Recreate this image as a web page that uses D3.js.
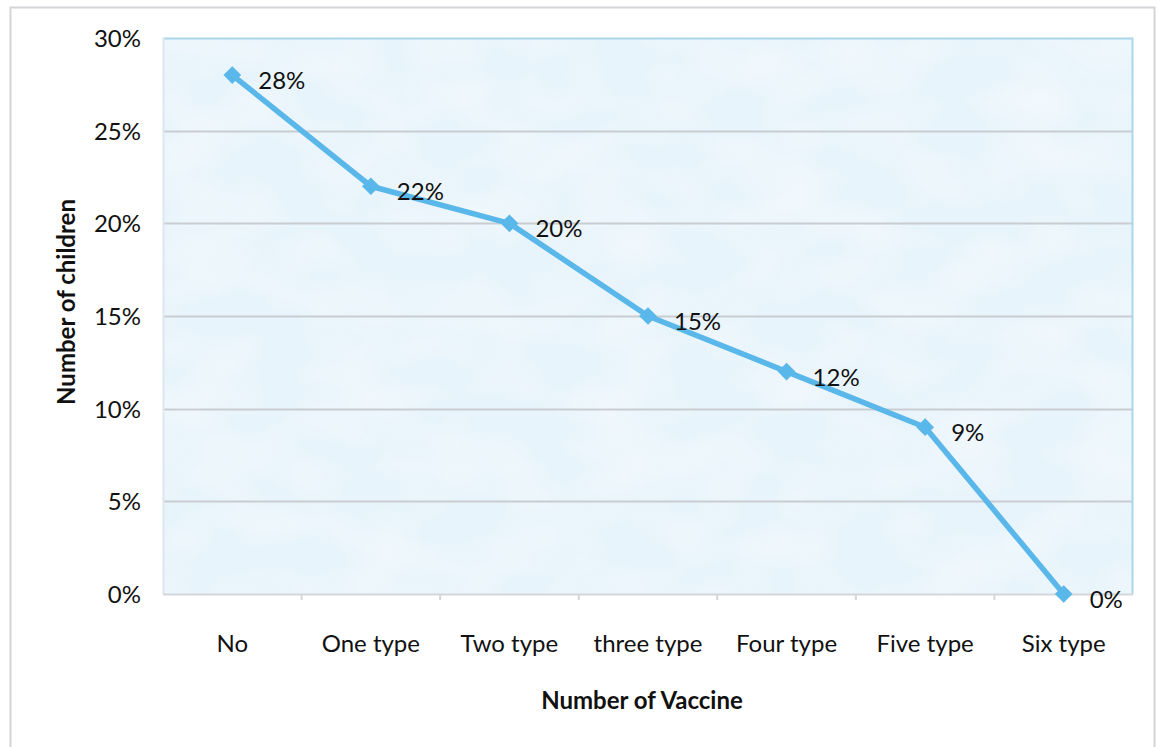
<!DOCTYPE html>
<html>
<head>
<meta charset="utf-8">
<script src="https://cdn.jsdelivr.net/npm/d3@7"></script>
<style>
  html, body { margin: 0; padding: 0; background: #ffffff; }
  svg { display: block; }
  text { font-family: Lato, "Open Sans", sans-serif; fill: #111; }
</style>
</head>
<body>
<svg id="chart" width="1158" height="747"></svg>
<script>
// Share of children by number of vaccines received
const categories = ["No", "One type", "Two type", "three type", "Four type", "Five type", "Six type"];
const shares = [28, 22, 20, 15, 12, 9, 0];
const yTicks = [0, 5, 10, 15, 20, 25, 30];
const xTitle = "Number of Vaccine";
const yTitle = "Number of children";

const svg = d3.select("#chart");
const W = 1158, H = 747;
const m = { left: 163, right: 25, top: 38, bottom: 153 };
const iw = W - m.left - m.right, ih = H - m.top - m.bottom;

// outer chart frame
svg.append("rect")
  .attr("x", 10.5).attr("y", 7.5)
  .attr("width", 1144).attr("height", 760)
  .attr("fill", "#fff").attr("stroke", "#d4d4d8").attr("stroke-width", 2);

const defs = svg.append("defs");
const filt = defs.append("filter").attr("id", "mottle")
  .attr("x", 0).attr("y", 0).attr("width", 1).attr("height", 1);
filt.append("feTurbulence").attr("type", "fractalNoise")
  .attr("baseFrequency", "0.012 0.02").attr("numOctaves", 2).attr("seed", 7).attr("result", "n");
filt.append("feColorMatrix").attr("in", "n").attr("type", "matrix")
  .attr("values", "0 0 0 0 1  0 0 0 0 1  0 0 0 0 1  1.4 0 0 0 -0.55").attr("result", "w");
filt.append("feComposite").attr("in", "w").attr("in2", "SourceGraphic").attr("operator", "in");

const g = svg.append("g").attr("transform", `translate(${m.left},${m.top})`);

const x = d3.scaleBand().domain(categories).range([0, iw]);
const y = d3.scaleLinear().domain([0, 30]).range([ih, 0]);

// plot background
g.append("rect").attr("width", iw).attr("height", ih).attr("fill", "#e8f4fb");
g.append("rect").attr("width", iw).attr("height", ih).attr("fill", "#fff")
  .attr("opacity", 0.6).attr("filter", "url(#mottle)");

// horizontal gridlines
g.append("g").selectAll("line").data(yTicks.filter(d => d > 0 && d < 30)).join("line")
  .attr("x1", 0).attr("x2", iw)
  .attr("y1", d => Math.round(y(d)) + 0.5).attr("y2", d => Math.round(y(d)) + 0.5)
  .attr("stroke", "#c9cdd2").attr("stroke-width", 2);

// plot border: top and right in light blue
g.append("path")
  .attr("d", `M0,0.5H${iw - 0.5}V${ih}`)
  .attr("fill", "none").attr("stroke", "#a9d6ea").attr("stroke-width", 2);
g.append("line").attr("x1", 0.5).attr("x2", 0.5).attr("y1", 0).attr("y2", ih)
  .attr("stroke", "#dfe6ec").attr("stroke-width", 2);

// x axis with ticks at category boundaries
const xAxis = g.append("g").attr("transform", `translate(0,${ih})`);
xAxis.append("line").attr("x1", 0).attr("x2", iw).attr("y1", 0.5).attr("y2", 0.5)
  .attr("stroke", "#d3d7dc").attr("stroke-width", 2);
xAxis.selectAll("line.tick").data(categories.slice(1)).join("line").attr("class", "tick")
  .attr("x1", d => x(d)).attr("x2", d => x(d)).attr("y1", 0).attr("y2", 6)
  .attr("stroke", "#d3d7dc").attr("stroke-width", 2);
xAxis.selectAll("text").data(categories).join("text")
  .attr("x", d => x(d) + x.bandwidth() / 2).attr("y", 58)
  .attr("text-anchor", "middle").attr("font-size", 24)
  .text(d => d);

// y axis labels
g.append("g").selectAll("text").data(yTicks).join("text")
  .attr("x", -22).attr("y", d => y(d) + 9)
  .attr("text-anchor", "end").attr("font-size", 24)
  .text(d => d + "%");

// axis titles
svg.append("text").attr("x", m.left + iw / 2 - 6).attr("y", 709)
  .attr("text-anchor", "middle").attr("font-size", 24).attr("font-weight", "bold")
  .text(xTitle);
svg.append("text")
  .attr("transform", `translate(75,302) rotate(-90)`)
  .attr("text-anchor", "middle").attr("font-size", 24).attr("font-weight", "bold")
  .text(yTitle);

// series line
const cx = d => x(d) + x.bandwidth() / 2;
const pts = categories.map((c, i) => [cx(c), y(shares[i])]);
g.append("path").datum(pts)
  .attr("d", d3.line())
  .attr("fill", "none").attr("stroke", "#5ab7ea").attr("stroke-width", 5.5)
  .attr("stroke-linejoin", "round");

// diamond markers
g.append("g").selectAll("path").data(pts).join("path")
  .attr("transform", d => `translate(${d[0]},${d[1]})`)
  .attr("d", d3.symbol(d3.symbolDiamond2, 200)())
  .attr("fill", "#5ab7ea");

// value labels
g.append("g").selectAll("text").data(shares).join("text")
  .attr("x", (d, i) => pts[i][0] + 26).attr("y", (d, i) => pts[i][1] + 14)
  .attr("font-size", 24)
  .text(d => d + "%");
</script>
</body>
</html>
